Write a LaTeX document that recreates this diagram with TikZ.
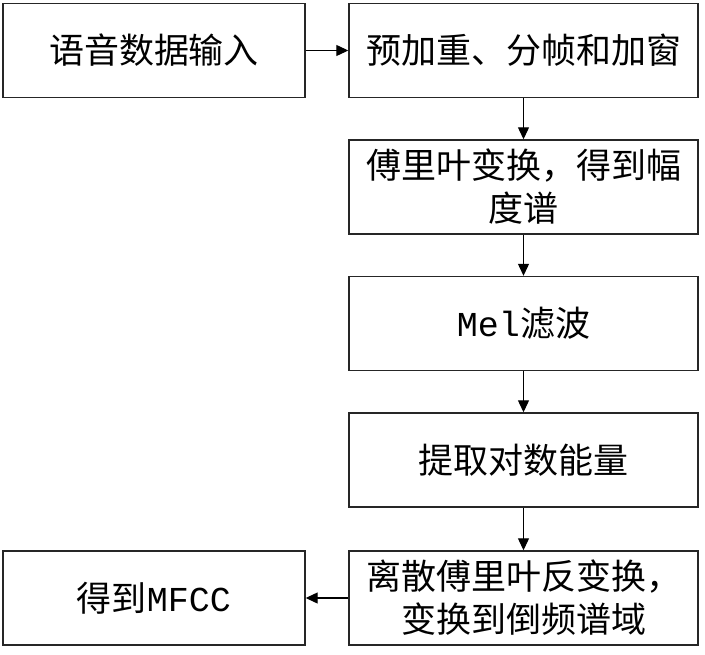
\documentclass[tikz,border=0pt]{standalone}
\usepackage{fontspec}
\setmainfont{Noto Sans CJK SC}
\newfontfamily\latinmono{Liberation Mono}
\usetikzlibrary{arrows.meta}
\begin{document}
\begin{tikzpicture}[x=1pt,y=-1pt,
  box/.style={draw=black!85,line width=1.4pt,rectangle,inner sep=0pt,
    minimum width=349pt,minimum height=94pt,align=center,
    font=\fontsize{35}{43}\selectfont},
  lbox/.style={box,minimum width=302pt},
  arr/.style={line width=1.2pt,-{Triangle[length=12pt,width=11pt]}}]
\useasboundingbox (0,0) rectangle (705,655);
\node[lbox] (b1) at (154,50.5) {语音数据输入};
\node[box] (b2) at (523.5,50.5) {预加重、分帧和加窗};
\node[box] (b3) at (523.5,187) {傅里叶变换，得到幅\\度谱};
\node[box] (b4) at (523.5,323.5) {{\latinmono Mel}滤波};
\node[box] (b5) at (523.5,460) {提取对数能量};
\node[box] (b6) at (523.5,598) {离散傅里叶反变换，\\变换到倒频谱域};
\node[lbox] (b7) at (154,598) {得到{\latinmono MFCC}};
\draw[arr] (b1) -- (b2);
\draw[arr] (b2) -- (b3);
\draw[arr] (b3) -- (b4);
\draw[arr] (b4) -- (b5);
\draw[arr] (b5) -- (b6);
\draw[arr] (b6) -- (b7);
\end{tikzpicture}
\end{document}
